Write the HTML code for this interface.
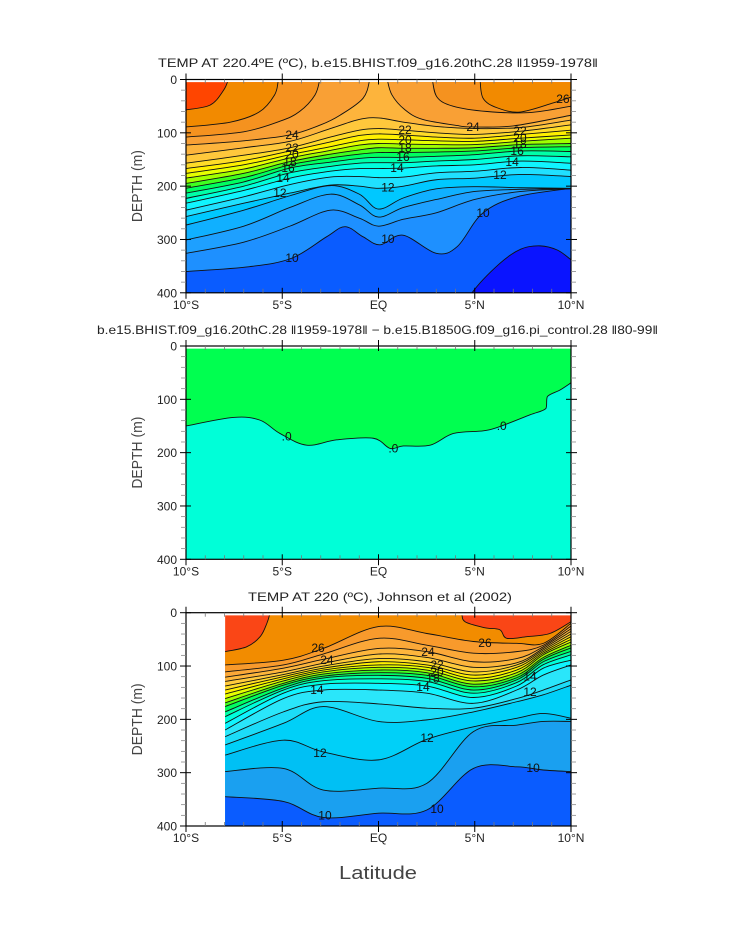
<!DOCTYPE html>
<html><head><meta charset="utf-8"><style>
html,body{margin:0;padding:0;background:#fff;}
svg{display:block;font-family:"Liberation Sans",sans-serif;}
</style></head><body>
<svg id="fig" width="733" height="945" viewBox="0 0 733 945" xmlns="http://www.w3.org/2000/svg"></svg>
<script>
// ---------- Panel 1 data (model temperature) ----------
const p1Grid = [-10,-7,-4.6,-2.5,-1,0,1.3,3,5,7.4,10];
const p1Upper = [
 [[-10,57],[-8.75,48],[-8.1,23],[-7.8,0],[-7.5,-40],[10,-40]],
 [[-10,89],[-7.7,80],[-6.2,61],[-5.4,29],[-5.2,1],[-5.0,-40],[5.2,-40],[5.27,-3],[5.43,35],[6.16,53],[7.35,61],[9.07,44],[10,33]],
 [[-10,108],[-7,98],[-5.1,78],[-4.1,60],[-3.3,29],[-3.04,-3],[-2.9,-40],[2.6,-40],[2.78,-3],[3.04,33],[3.87,50],[5.64,60],[7.87,62],[10,50]],
 [[-10,123],[-7,115],[-4.6,104],[-3,85],[-2,67],[-0.8,35],[-0.44,-3],[-0.3,-40],[0.3,-40],[0.44,-3],[0.7,29],[1.38,57],[2.3,75],[4.2,87],[4.9,89],[7,87],[10,67]]
];
const p1Thermo = [
 [142,128,116,92,75,72,80,88,92,90,76],
 [157,142,128,108,95,92,95,100,103,97,85],
 [167,152,134,117,105,102,104,108,110,103,95],
 [176,160,141,126,115,112,113,115,116,110,104],
 [185,168,147,133,123,120,121,122,122,116,110],
 [195,176,154,140,132,128,129,129,128,122,120],
 [204,184,160,147,140,137,137,136,134,128,126],
 [213,192,166,155,148,146,146,144,141,134,135],
 [223,200,175,163,157,156,156,153,150,143,145],
 [232,208,185,172,167,167,166,162,160,153,157],
 [245,220,197,183,182,184,183,175,172,165,170],
 [257,232,213,198,200,204,200,188,185,178,182],
 [273,245,218,199,215,243,222,205,201,203,204],
 [301,275,240,215,235,258,240,225,210,206,204.5],
 [326,305,275,245,260,275,262,250,225,210,205]
];
const p1Line10 = [[-10,360],[-6.7,351],[-4.5,335],[-2.7,295],[-1.74,276],[-0.8,295],[0.08,310],[1.27,292],[3.0,326],[4.1,313],[5.4,251],[7.2,220],[10,204]];
const p1Patch = [[-10,460],[4,460],[4.86,400],[6.3,345],[7.4,318],[8.4,312],[9.3,320],[10,338]];
const p1Colors = ['#ff4500','#f28a00','#f5921f','#f9a035','#fdb43c','#ffc83c','#ffdc28','#fff000','#e6ff00','#a0ff00','#40ff20','#00ff60','#00ffa8','#00ffdc','#10f4ff','#20e0ff','#00c8ff','#10b0ff','#1ea0ff','#1e90ff','#0a5cff','#0a14ff'];
const p1Labels = [[9.58,37,'26'],[-4.49,104,'24'],[4.91,89,'24'],[-4.49,128,'22'],[-4.49,141,'20'],[-4.6,155,'18'],[-4.7,166,'16'],[-4.96,185,'14'],[-5.12,213,'12'],[-4.49,335,'10'],[1.38,95,'22'],[1.38,113,'20'],[1.38,128,'18'],[1.27,145,'16'],[0.96,166,'14'],[0.49,203,'12'],[0.49,299,'10'],[7.35,97,'22'],[7.35,110,'20'],[7.35,121,'18'],[7.2,134,'16'],[6.94,155,'14'],[6.31,179,'12'],[5.43,250,'10']];

// ---------- Panel 2 data (difference) ----------
const p2Line = [[-10,150],[-7.54,134],[-6.16,139],[-5.12,164],[-3.73,186],[-2.17,176],[-0.27,173],[0.6,192],[1.29,187.5],[2.68,186],[3.89,164],[5.45,159],[6.31,151],[7.87,129],[8.70,117],[8.77,95],[9.43,82.5],[10,69]];
const p2Colors = ['#00ff50','#00ffd8'];
const p2Labels = [[-4.77,170,'.0'],[0.77,192,'.0'],[6.4,150,'.0']];

// ---------- Panel 3 data (Johnson et al) ----------
const p3Grid = [-7.97,-4.94,-2.87,0,2.51,4.93,7.18,8.56,10];
const p3Red = [[-7.97,73],[-6.85,64],[-6.15,45],[-5.8,20],[-5.64,0],[-5.5,-40],[4.2,-40],[4.32,0],[4.5,17],[5.5,28],[6.3,32],[6.66,48],[7.7,45],[8.9,39],[10,17]];
const p3Lines = [
 [98,89,67,26,39,54,57.5,57.5,20],
 [111,98,77.5,48,61,76,73,61,25],
 [121,104,87.5,67,73,92,86,64,30],
 [129,111,95,77.5,84,102.5,94,67,35],
 [137.5,116,100,86,92,111,98,70,40],
 [145,120,104,92,98,117,102.5,73,45],
 [152.5,124,107.5,98,102.5,123,107.5,76,50],
 [161,128,111,102.5,107.5,128,112.5,79,55],
 [169,132.5,115,107.5,112.5,134,117.5,84,61],
 [176,136,119,112.5,117.5,139,122,87.5,66],
 [186,141,122.5,117.5,123,145,126,92,72.5],
 [195,145,127.5,124,129,151,131,97.5,79],
 [207.5,151,134,132.5,137.5,159,137.5,104,89],
 [220,161,145,145,151,170,145,117,98],
 [232.5,186,167,171,179,179,161,145,126],
 [248,207.5,176,204,201,186,167,154,136],
 [267,239,261,276,237.5,214,198,189,198],
 [298,292,332.5,329,320,223,211,204,204],
 [345,354,384,376,370,292,289,295,298]
];
const p3Colors = ['#fa4616','#f28c00','#f89a2c','#fba838','#fdb63c','#ffca3c','#ffdc28','#fff000','#e6ff00','#a0ff00','#40ff20','#00ff60','#00ffa8','#00ffdc','#10f4ff','#2ae6fa','#1cdcf8','#00d0f8','#00c0f4','#1aa0f0','#0a5cff'];
const p3Labels = [[-3.14,66,'26'],[5.53,57,'26'],[-2.68,89,'24'],[2.57,74,'24'],[3.04,98,'22'],[3.04,111,'20'],[2.83,123,'18'],[-3.2,145,'14'],[2.31,139,'14'],[7.87,120,'14'],[7.87,149,'12'],[-3.04,263,'12'],[2.52,235,'12'],[-2.78,380,'10'],[3.04,368,'10'],[8.03,291,'10']];

const xTicks = [-10,-5,0,5,10];
const xTickLabels = ['10°S','5°S','EQ','5°N','10°N'];
const yTicks = [0,100,200,300,400];
const yTickLabels = ['0','100','200','300','400'];

// ---------- helpers ----------
const NS='http://www.w3.org/2000/svg';
const svg=document.getElementById('fig');
const X0=186, W=385, H=213.3;
const tops=[79.5,346,612.7];
function sx(lat){return X0+(lat+10)/20*W;}
function sy(d,top){return top+d/400*H;}
function mk(tag,attrs,parent){const e=document.createElementNS(NS,tag);for(const k in attrs)e.setAttribute(k,attrs[k]);(parent||svg).appendChild(e);return e;}
function gridPts(grid,arr){return grid.map((g,i)=>[g,arr[i]]);}
function smoothPath(pts,top,start){
  const P=pts.map(p=>[sx(p[0]),sy(p[1],top)]);
  let d=(start?'M':'L')+P[0][0].toFixed(2)+' '+P[0][1].toFixed(2);
  for(let i=0;i<P.length-1;i++){
    const p0=P[Math.max(0,i-1)],p1=P[i],p2=P[i+1],p3=P[Math.min(P.length-1,i+2)];
    const c1=[p1[0]+(p2[0]-p0[0])/6,p1[1]+(p2[1]-p0[1])/6];
    const c2=[p2[0]-(p3[0]-p1[0])/6,p2[1]-(p3[1]-p1[1])/6];
    // keep control x within segment to avoid back-tracking
    c1[0]=Math.min(Math.max(c1[0],p1[0]),p2[0]);c2[0]=Math.min(Math.max(c2[0],p1[0]),p2[0]);
    d+=' C'+c1[0].toFixed(2)+' '+c1[1].toFixed(2)+' '+c2[0].toFixed(2)+' '+c2[1].toFixed(2)+' '+p2[0].toFixed(2)+' '+p2[1].toFixed(2);
  }
  return d;
}
function drawPanel(idx,lines,colors,labels,latMin){
  const top=tops[idx];
  const g=mk('g',{});
  
  
  const cp=mk('clipPath',{id:'clip'+idx},g);
  mk('rect',{x:sx(latMin),y:sy(5,top),width:sx(10)-sx(latMin),height:sy(400,top)-sy(5,top)},cp);
  const fills=mk('g',{'clip-path':'url(#clip'+idx+')'},g);
  const bg=mk('rect',{x:sx(latMin),y:top,width:sx(10)-sx(latMin),height:H,fill:colors[0]},fills);
  
  
  lines.forEach((pts,i)=>{
    const a=pts[0][0],b=pts[pts.length-1][0];
    const d=smoothPath(pts,top,true)+' L'+sx(b)+' '+sy(420,top)+' L'+sx(a)+' '+sy(420,top)+' Z';
    const band=mk('path',{d:d,fill:colors[i+1]},fills);
    
    
  });
  lines.forEach((pts)=>{
    const ln=mk('path',{d:smoothPath(pts,top,true),fill:'none',stroke:'#111','stroke-width':0.9},fills);
    
    
  });
  labels.forEach(l=>{
    const t=mk('text',{x:sx(l[0]),y:sy(l[1],top)+4,'text-anchor':'middle','font-size':12,fill:'#111'},g);
    t.textContent=l[2];
    
    
  });
  // frame
  const fr=mk('rect',{x:X0,y:top,width:W,height:H,fill:'none',stroke:'#000','stroke-width':1.2},g);
  
  
  // minor ticks
  for(let lat=-10;lat<=10;lat++){
    if(lat%5===0)continue;
    mk('line',{x1:sx(lat),x2:sx(lat),y1:top+H,y2:top+H-4,stroke:'#777','stroke-width':0.8},g);
    mk('line',{x1:sx(lat),x2:sx(lat),y1:top,y2:top+4,stroke:'#777','stroke-width':0.8},g);
  }
  for(let d=20;d<400;d+=20){
    if(d%100===0)continue;
    mk('line',{x1:X0,x2:X0-5,y1:sy(d,top),y2:sy(d,top),stroke:'#888','stroke-width':0.8},g);
    mk('line',{x1:X0+W,x2:X0+W+5,y1:sy(d,top),y2:sy(d,top),stroke:'#888','stroke-width':0.8},g);
  }
  xTicks.forEach((v,i)=>{
    mk('line',{x1:sx(v),x2:sx(v),y1:top+H-5,y2:top+H+6,stroke:'#000','stroke-width':1},g);
    mk('line',{x1:sx(v),x2:sx(v),y1:top-6,y2:top+5,stroke:'#000','stroke-width':1},g);
    const t=mk('text',{x:sx(v),y:top+H+16,'text-anchor':'middle','font-size':12,fill:'#222'},g);
    t.textContent=xTickLabels[i];
    
    
  });
  yTicks.forEach((v,i)=>{
    mk('line',{x1:X0-6,x2:X0+5,y1:sy(v,top),y2:sy(v,top),stroke:'#000','stroke-width':1},g);
    mk('line',{x1:X0+W-5,x2:X0+W+6,y1:sy(v,top),y2:sy(v,top),stroke:'#000','stroke-width':1},g);
    const t=mk('text',{x:X0-9,y:sy(v,top)+4.5,'text-anchor':'end','font-size':12,fill:'#222'},g);
    t.textContent=yTickLabels[i];
    
    
  });
  const yl=mk('text',{x:0,y:0,transform:'translate(142,'+(top+H/2)+') rotate(-90)','text-anchor':'middle','font-size':15,fill:'#444',textLength:72,lengthAdjust:'spacingAndGlyphs'},g);
  yl.textContent='DEPTH (m)';
  
  
}

// panel 1
const p1All=[];
p1Upper.forEach(p=>p1All.push(p));
p1Thermo.forEach(a=>p1All.push(gridPts(p1Grid,a)));
p1All.push(p1Line10);
p1All.push(p1Patch);
drawPanel(0,p1All,p1Colors,p1Labels,-10);
// panel 2
drawPanel(1,[p2Line],p2Colors,p2Labels,-10);
// panel 3
const p3All=[p3Red];
p3Lines.forEach(a=>p3All.push(gridPts(p3Grid,a)));
drawPanel(2,p3All,p3Colors,p3Labels,-7.97);

// titles
function title(txt,cx,y,w,name){
  const t=mk('text',{x:cx,y:y,'text-anchor':'middle','font-size':12,fill:'#222',textLength:w,lengthAdjust:'spacingAndGlyphs'});
  t.textContent=txt;
  
  
}
title('TEMP AT 220.4ºE (ºC), b.e15.BHIST.f09_g16.20thC.28 ‖1959-1978‖',378,67,440,'title-panel-1');
title('b.e15.BHIST.f09_g16.20thC.28 ‖1959-1978‖ − b.e15.B1850G.f09_g16.pi_control.28 ‖80-99‖',377.5,334,561,'title-panel-2');
title('TEMP AT 220 (ºC), Johnson et al (2002)',380,601,264,'title-panel-3');
const xl=mk('text',{x:378,y:879,'text-anchor':'middle','font-size':18,fill:'#444',textLength:78,lengthAdjust:'spacingAndGlyphs'});
xl.textContent='Latitude';


</script>
</body></html>
